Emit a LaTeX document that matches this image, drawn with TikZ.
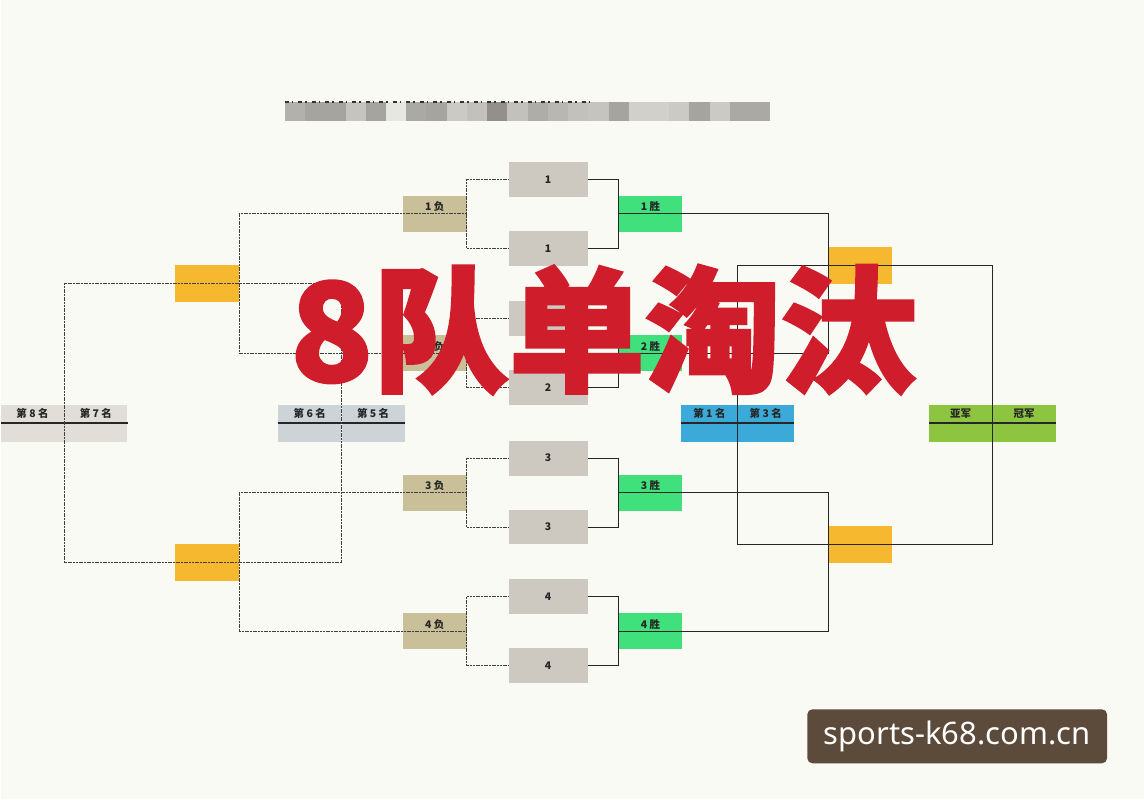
\documentclass[tikz,border=0pt]{standalone}
\usepackage{fontspec}
\newfontfamily\cjk{Noto Sans CJK SC}
\newfontfamily\titlecjk{Noto Sans CJK SC}[BoldFeatures={FakeBold=2}]
\newfontfamily\sitefont{Noto Sans}
\usetikzlibrary{positioning}

\definecolor{paper}{HTML}{FAFAF5}
\definecolor{matchgray}{HTML}{CDC9C0}
\definecolor{losetan}{HTML}{C9C09A}
\definecolor{wingreen}{HTML}{40E07C}
\definecolor{seedyellow}{HTML}{F6B82E}
\definecolor{place87}{HTML}{E1DED7}
\definecolor{place65}{HTML}{CDD4D8}
\definecolor{place43}{HTML}{3BAAD8}
\definecolor{finalgreen}{HTML}{8DC540}
\definecolor{titlered}{HTML}{CF1D2B}
\definecolor{mosaicdark}{HTML}{3E3A33}
\definecolor{sitebrown}{HTML}{5C4A3A}

\tikzset{
  boxlabel/.style={font=\cjk\bfseries\fontsize{10.5}{12}\selectfont, text=black!85},
  match/.style={boxlabel, fill=matchgray, minimum width=79pt, minimum height=35pt, inner sep=0pt},
  tagbox/.style={boxlabel, minimum width=64pt, minimum height=36pt, inner sep=0pt,
    text height=8pt, text depth=14pt},
  losebox/.style={tagbox, fill=losetan},
  winbox/.style={tagbox, fill=wingreen},
  seedbox/.style={fill=seedyellow, minimum width=64pt, minimum height=37pt, inner sep=0pt},
  placebox/.style={boxlabel, minimum width=63pt, minimum height=37pt, inner sep=0pt,
    text height=8pt, text depth=19pt},
  loseline/.style={line width=1pt, black!75, dash pattern=on 2pt off 0.7pt},
  winline/.style={line width=1pt, black!85},
  midline/.style={line width=1.8pt, black!85},
  titletext/.style={text=titlered, font=\titlecjk\bfseries\fontsize{136}{140}\selectfont, inner sep=0pt},
  sitetag/.style={fill=sitebrown, rounded corners=5pt, minimum width=300pt, minimum height=54pt,
    text=white, font=\sitefont\fontsize{31}{34}\selectfont}
}

\begin{document}
\begin{tikzpicture}[x=1pt,y=-1pt]
  \fill[paper] (0,0) rectangle (1144,800);

  % blurred heading
  \foreach \g [count=\k from 0] in {38,45,45,28,45,10,42,45,25,30,55,30,40,35,30,28,45,22,22,25,45,25,42,42}
    \fill[mosaicdark!\g!paper] (284+\k*20.25,102) rectangle ++(20.25,19);
  \draw[black!80, line width=2.5pt, dash pattern=on 4pt off 3pt on 1.5pt off 5pt] (284,102) -- (590,102);

  % first round
  \foreach \i/\c in {1/214,2/353.5,3/493,4/632}{
    \node[match] (ma\i) at (547.5,\c-34.5) {\i};
    \node[match] (mb\i) at (547.5,\c+34.5) {\i};
    \node[losebox] (lose\i) at (434,\c) {\i\ 负};
    \node[winbox] (win\i) at (650,\c) {\i\ 胜};
    \draw[loseline] (lose\i.east) |- (ma\i.west) (lose\i.east) |- (mb\i.west);
    \draw[winline] (ma\i.east) -| (win\i.west) (mb\i.east) -| (win\i.west);
  }

  \node[seedbox] (yl1) at (206,283.5) {};
  \node[seedbox] (yl2) at (206,563.5) {};
  \node[seedbox] (yr1) at (860,266) {};
  \node[seedbox] (yr2) at (860,545) {};

  % places
  \node[placebox, fill=place87] (p8) at (31.5,423.5) {第 8 名};
  \node[placebox, fill=place87, right=0pt of p8] (p7) {第 7 名};
  \node[placebox, fill=place65] (p6) at (309,423.5) {第 6 名};
  \node[placebox, fill=place65, right=0pt of p6] (p5) {第 5 名};
  \node[placebox, fill=place43, minimum width=56pt] (p4) at (709,423.5) {第 1 名};
  \node[placebox, fill=place43, minimum width=56pt, right=0pt of p4] (p3) {第 3 名};
  \node[placebox, fill=finalgreen] (pr) at (960.5,423.5) {亚军};
  \node[placebox, fill=finalgreen, right=0pt of pr] (pc) {冠军};
  \foreach \a/\b in {p8/p7,p6/p5,p4/p3,pr/pc}
    \draw[midline] (\a.west) -- (\b.east);

  % losers side
  \draw[loseline] (lose1.east) -- (yl1.east |- lose1.center) -- (yl1.east |- lose2.center) -- (lose2.east);
  \draw[loseline] (lose3.east) -- (yl2.east |- lose3.center) -- (yl2.east |- lose4.center) -- (lose4.east);
  \draw[loseline] (p8.east |- yl1.center) rectangle (p6.east |- yl2.center);

  % winners side
  \draw[winline] (win1.west) -- (yr1.west |- win1.center) -- (yr1.west |- win2.center) -- (win2.west);
  \draw[winline] (win3.west) -- (yr2.west |- win3.center) -- (yr2.west |- win4.center) -- (win4.west);
  \draw[winline] (p4.east |- yr1.center) rectangle (pr.east |- yr2.center);

  \node[titletext] (title) at (603,330) {8队单淘汰};
  \node[sitetag] (site) at (957,737) {sports-k68.com.cn};
\end{tikzpicture}
\end{document}
